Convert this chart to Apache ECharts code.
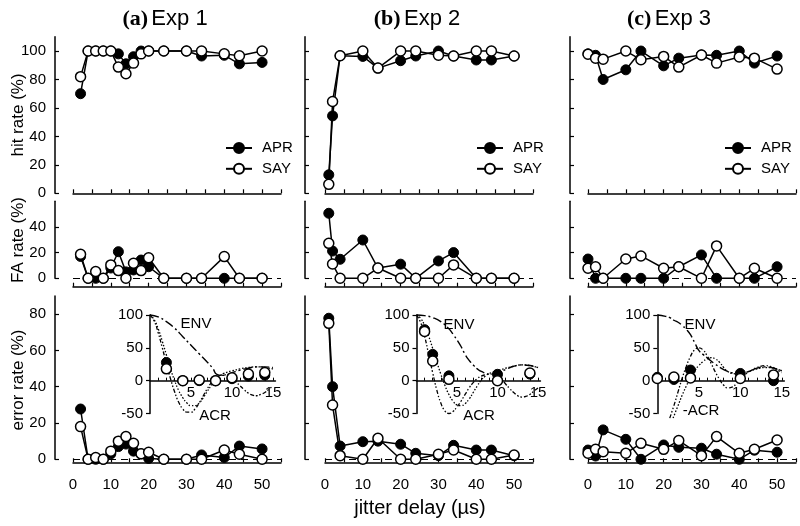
<!DOCTYPE html>
<html><head><meta charset="utf-8">
<script src="https://cdn.jsdelivr.net/npm/echarts@6/dist/echarts.min.js"></script>
<style>html,body{margin:0;padding:0;background:#fff}#c{width:800px;height:526px}</style>
</head><body><div id="c"></div>
<script>
// ---------- data ----------
const x1 = [2,4,6,8,10,12,14,16,18,20,24,30,34,40,44,50];
const x2 = [1,2,4,10,14,20,24,30,34,40,44,50];
const x3 = [0,2,4,10,14,20,24,30,34,40,44,50];

const hitAPR1 = [70,100,100,100,100,98,91,96,100,100,100,100,96.5,97,91,92];
const hitSAY1 = [82,100,100,100,100,88.7,84,91.5,98,100,100,100,100,98,96.7,100];
const faAPR1  = [17,0,0,0,8,20.7,5,6.5,14.2,9,0,0,0,0,0,0];
const faSAY1  = [18.7,0,5.2,0,10.4,6,0,11.7,6,16,0,0,0,16.9,0,0];
const errAPR1 = [27.7,0,0,0,3,7,8.4,4.5,3,0.5,0,0,2.4,1,7.3,5.7];
const errSAY1 = [18,0,1,0,4.5,10,12.5,8.8,3,3.9,0,0,0,5.1,2.8,0];

const hitAPR2 = [13,54.4,96.7,96.2,88,93.2,96.5,100,96.5,93.7,93.7,96.5];
const hitSAY2 = [6.3,64.5,96.7,100,88,100,100,97,96.5,100,100,96.5];
const faAPR2  = [50.6,21.2,14.8,29.8,8,11,0,13.5,20,0,0,0];
const faSAY2  = [27.2,11.1,0,0,8,0,0,0,10.4,0,0,0];
const errAPR2 = [77.7,40,7.3,9.7,10,8.3,3.3,2,7.7,5.1,5.1,2];
const errSAY2 = [74.9,29.9,2,0,11.6,0,0,2.8,5.1,0,0,2.4];

const hitAPR3 = [98,97,80,86.8,100,89.6,95,97.2,97,100,91.5,96.5];
const hitSAY3 = [97.8,95,94.3,100,93.9,96.2,88.7,97.2,91.5,95.8,95,87.3];
const faAPR3  = [15,0,0,0,0,0,9,18.2,0,0,0,9];
const faSAY3  = [7.8,9,0,15,17.4,7.8,9,0,25.2,0,7.8,0];
const errAPR3 = [5.1,1.8,16.2,11,0,7.9,6.6,6.1,2.8,0,5,3.9];
const errSAY3 = [3.3,5.5,4.2,3.3,8.8,5.5,10.3,2,12.5,3.3,5.5,10.6];

// inset curves [delay, %]
const envA = [[0,100],[1,97],[2,90],[3,80],[4,67],[5,54],[6,41],[7,28],[7.7,18],[8.1,10],[9,8],[10,12],[11,16],[12,19],[13,21],[14,21],[15,20]];
const acrA = [[0,100],[0.5,91],[1,73],[1.5,50],[2,26],[2.5,3],[3,-17],[3.5,-33],[4,-43],[4.5,-48],[5,-48],[5.5,-43],[6,-34],[6.5,-23],[7,-12],[7.5,-3],[8,4],[8.5,8],[9,9],[9.5,8],[10,4],[10.5,-2],[11,-8],[11.5,-14],[12,-19],[12.5,-22],[13,-23],[13.5,-21],[14,-18],[14.5,-13],[15,-8]];
const modA = [[0,100],[0.5,93],[1,79],[1.5,60],[2,39],[2.5,18],[3,0],[3.5,-15],[4,-26],[4.5,-34],[5,-38],[5.5,-38],[6,-34],[6.5,-26],[7,-16],[7.5,-7],[8,1],[8.5,7],[9,11],[10,15],[11,18],[12,20],[13,21],[14,20],[15,18]];

const envB = [[0,100],[1,99],[2,96],[3,90],[4,79],[4.5,71],[5,62],[5.5,52],[6,40],[6.5,31],[7,24],[7.5,18],[8,14],[9,10],[10,12],[11,17],[12,22],[13,24],[14,23],[15,20]];
const acrB = [[0,100],[0.5,89],[1,68],[1.5,40],[2,12],[2.5,-14],[3,-34],[3.5,-46],[4,-50],[4.5,-47],[5,-40],[5.5,-31],[6,-21],[6.5,-11],[7,-3],[7.5,3],[8,7],[8.5,9],[9,10],[9.5,10],[10,7],[10.5,2],[11,-5],[11.5,-12],[12,-18],[12.5,-23],[13,-25],[13.5,-24],[14,-21],[14.5,-16],[15,-11]];
const modB = [[0,100],[0.5,95],[1,84],[1.5,68],[2,49],[2.5,29],[3,10],[3.5,-7],[4,-21],[4.5,-31],[5,-37],[5.5,-38],[6,-35],[6.5,-28],[7,-18],[7.5,-8],[8,1],[8.5,7],[9,11],[10,15],[11,19],[12,22],[13,24],[14,23],[15,20]];

const envC = [[0,100],[1,98],[1.5,96],[2,92],[2.5,89],[3,84],[3.5,78],[4,70],[4.5,58],[5,46],[5.5,40],[6,35],[7,25],[8,17],[9,12],[10,11],[11,14],[12,19],[13,21],[14,19],[15,15]];
const acrC = [[1.5,-57],[2,-38],[2.5,-17],[3,4],[3.5,22],[4,37],[4.5,47],[5,50],[5.5,47],[6,38],[6.5,26],[7,13],[7.5,2],[8,-7],[8.5,-11],[9,-10],[9.5,-5],[10,2],[10.5,8],[11,13],[11.5,17],[12,20],[12.5,22],[13,23],[13.5,22],[14,20],[14.5,16],[15,12]];
const modC = [[1.9,-57],[2.5,-38],[3,-22],[3.5,-8],[4,5],[4.5,15],[5,23],[5.5,29],[6,33],[6.5,35],[7,33],[7.5,28],[8,20],[8.5,14],[9,11],[10,10],[11,14],[12,18],[13,20],[14,19],[15,15]];

const titles = [['(a)','Exp 1'],['(b)','Exp 2'],['(c)','Exp 3']];
const rowTitles = ['hit rate (%)','FA rate (%)','error rate (%)'];
const xTitle = 'jitter delay (\u00b5s)';
const xLabelVals = [0,10,20,30,40,50];
const rowTicks = [[0,20,40,60,80,100],[0,20,40],[0,20,40,60,80]];
const insetYTicks = [-50,0,50,100];
const insetXTicks = [1,2,3,4,5,6,7,8,9,10,11,12,13,14,15];
const insetXLabels = [5,10,15];
const insetMaxX = 15;
const insetYMin = -50, insetYMax = 100;

// ---------- layout ----------
const FONT = 'Liberation Sans';
const COL_LEFT = [73,325,588], COL_W = 208, Y_OFF = [18,20,18];
const ROWS = [{top:36.8,h:156.5,min:0,max:110,xOff:0},
              {top:201.2,h:77.1,min:0,max:60,xOff:8.4},
              {top:295.9,h:163.4,min:0,max:90,xOff:3}];
const INSET_LEFT = [150,416.5,657.3], INSET_PPU = [8.2,8.1,8.3], INSET_TOP = 315, INSET_H = 98.5;
const TITLE_X = [165,417,669];
const LEG_LEFT = [220,471,719];
const ENV_POS = [[196,324],[459,325],[700,324.5]];
const ACR_POS = [[215,416],[479,416],[701,411]];

const cols = [
  {x:x1, d:[[hitAPR1,hitSAY1],[faAPR1,faSAY1],[errAPR1,errSAY1]], env:envA, acr:acrA, mod:modA, acrName:'ACR'},
  {x:x2, d:[[hitAPR2,hitSAY2],[faAPR2,faSAY2],[errAPR2,errSAY2]], env:envB, acr:acrB, mod:modB, acrName:'ACR'},
  {x:x3, d:[[hitAPR3,hitSAY3],[faAPR3,faSAY3],[errAPR3,errSAY3]], env:envC, acr:acrC, mod:modC, acrName:'-ACR'}
];

const zip = (xs, ys) => xs.map((v,i)=>[v, ys[i]]);
const black = '#000';
const labelStyle = {fontFamily:FONT, fontSize:15, color:black};
const aprStyle = {color:black, borderColor:black, borderWidth:1, opacity:1};
const sayStyle = {color:'#fff', borderColor:black, borderWidth:1.5, opacity:1};

const grid=[], xAxis=[], yAxis=[], series=[];
cols.forEach((c,ci)=>{
  ROWS.forEach((r,ri)=>{
    const gi = grid.length;
    grid.push({left:COL_LEFT[ci], width:COL_W, top:r.top, height:r.h});
    xAxis.push({type:'value', gridIndex:gi, min:0, max:55, interval:5, offset:r.xOff,
      axisLine:{onZero:false, lineStyle:{color:black, width:1.5}},
      axisTick:{inside:true, length:4, lineStyle:{color:black, width:1.2}},
      axisLabel:{show:ri===2, customValues:xLabelVals, margin:15, ...labelStyle},
      splitLine:{show:false}});
    yAxis.push({type:'value', gridIndex:gi, min:r.min, max:r.max, offset:Y_OFF[ci],
      axisLine:{show:true, onZero:false, lineStyle:{color:black, width:1.5}},
      axisTick:{show:true, inside:true, length:4, customValues:rowTicks[ri], lineStyle:{color:black, width:1.2}},
      axisLabel:{show:ci===0, customValues:rowTicks[ri], margin:9, ...labelStyle},
      splitLine:{show:false}});
    const [apr, say] = c.d[ri];
    const common = {type:'line', xAxisIndex:gi, yAxisIndex:gi, symbol:'circle', symbolSize:10,
      clip:false, animation:false, silent:true, lineStyle:{color:black, width:1.5}, z:3};
    const aprS = {...common, name:'APR', data:zip(c.x, apr), itemStyle:aprStyle};
    if (ri>0) aprS.markLine = {silent:true, z:1, symbol:['none','none'], label:{show:false},
      lineStyle:{type:[7,5], color:black, width:1.2}, data:[{yAxis:0}], animation:false};
    series.push(aprS);
    series.push({...common, name:'SAY', data:zip(c.x, say), itemStyle:sayStyle, z:4});
  });
});
cols.forEach((c,ci)=>{
  const gi = grid.length;
  // x axis drawn at y = 0: shift it up from the grid bottom
  const zeroShift = INSET_H * (0 - insetYMin) / (insetYMax - insetYMin);
  grid.push({left:INSET_LEFT[ci], width:(insetMaxX+0.3)*INSET_PPU[ci], top:INSET_TOP, height:INSET_H});
  xAxis.push({type:'value', gridIndex:gi, min:0, max:insetMaxX+0.3, offset:-zeroShift,
    axisLine:{onZero:false, lineStyle:{color:black, width:1.5}},
    axisTick:{inside:true, length:3, customValues:insetXTicks, lineStyle:{color:black, width:1}},
    axisLabel:{customValues:insetXLabels, margin:5, ...labelStyle},
    splitLine:{show:false}});
  yAxis.push({type:'value', gridIndex:gi, min:insetYMin, max:insetYMax,
    axisLine:{show:true, onZero:false, lineStyle:{color:black, width:1.5}},
    axisTick:{show:true, inside:false, length:4, customValues:insetYTicks, lineStyle:{color:black, width:1.2}},
    axisLabel:{customValues:insetYTicks, margin:7, ...labelStyle},
    splitLine:{show:false}});
  const curve = (data, type, w) => ({type:'line', name:'curve', xAxisIndex:gi, yAxisIndex:gi, data,
    showSymbol:false, symbol:'none', smooth:true, clip:false, animation:false, silent:true, z:2,
    lineStyle:{color:black, width:w, type}});
  series.push(curve(c.env, [9,3,2,3], 1.4));
  series.push(curve(c.acr, [4,2,1.5,2,1.5,2], 1.3));
  series.push(curve(c.mod, [1.5,1.8], 1.3));
  const [apr, say] = c.d[2];
  const ax = c.x.filter(v => v <= insetMaxX);
  const pts = (ys) => ax.map(v => [v, ys[c.x.indexOf(v)]]);
  series.push({type:'scatter', name:'APR', xAxisIndex:gi, yAxisIndex:gi, data:pts(apr), symbol:'circle',
    symbolSize:10, itemStyle:aprStyle, animation:false, silent:true, z:3, clip:false});
  series.push({type:'scatter', name:'SAY', xAxisIndex:gi, yAxisIndex:gi, data:pts(say), symbol:'circle',
    symbolSize:10, itemStyle:sayStyle, animation:false, silent:true, z:4, clip:false});
});

const legend = LEG_LEFT.map(l => ({data:['APR','SAY'], orient:'vertical', left:l, top:135.5,
  itemWidth:26, itemHeight:12.5, itemGap:5.8, selectedMode:false,
  textStyle:{fontFamily:FONT, fontSize:15, color:black, padding:[0,0,0,5]}}));

const graphic = [];
titles.forEach((t,i)=>graphic.push({type:'text', x:TITLE_X[i], y:19, silent:true,
  style:{text:'{p|'+t[0]+'} {e|'+t[1]+'}', align:'center', verticalAlign:'middle',
    rich:{p:{fontFamily:'Liberation Serif', fontWeight:'bold', fontSize:22, fill:black},
          e:{fontFamily:FONT, fontSize:22, fill:black}}}}));
const rowCenters = [115,240,380];
rowTitles.forEach((t,i)=>graphic.push({type:'text', x:18, y:rowCenters[i], rotation:Math.PI/2, silent:true,
  style:{text:t, fontFamily:FONT, fontSize:17, fill:black, align:'center', verticalAlign:'middle'}}));
graphic.push({type:'text', x:420, y:508, silent:true,
  style:{text:xTitle, fontFamily:FONT, fontSize:20, fill:black, align:'center', verticalAlign:'middle'}});
cols.forEach((c,i)=>{
  graphic.push({type:'text', x:ENV_POS[i][0], y:ENV_POS[i][1], silent:true,
    style:{text:'ENV', fontFamily:FONT, fontSize:15, fill:black, align:'center', verticalAlign:'middle'}});
  graphic.push({type:'text', x:ACR_POS[i][0], y:ACR_POS[i][1], silent:true,
    style:{text:c.acrName, fontFamily:FONT, fontSize:15, fill:black, align:'center', verticalAlign:'middle'}});
});

const chart = echarts.init(document.getElementById('c'), null, {renderer:'canvas'});
chart.setOption({animation:false, backgroundColor:'#fff', grid, xAxis, yAxis, series, legend, graphic});
</script></body></html>
